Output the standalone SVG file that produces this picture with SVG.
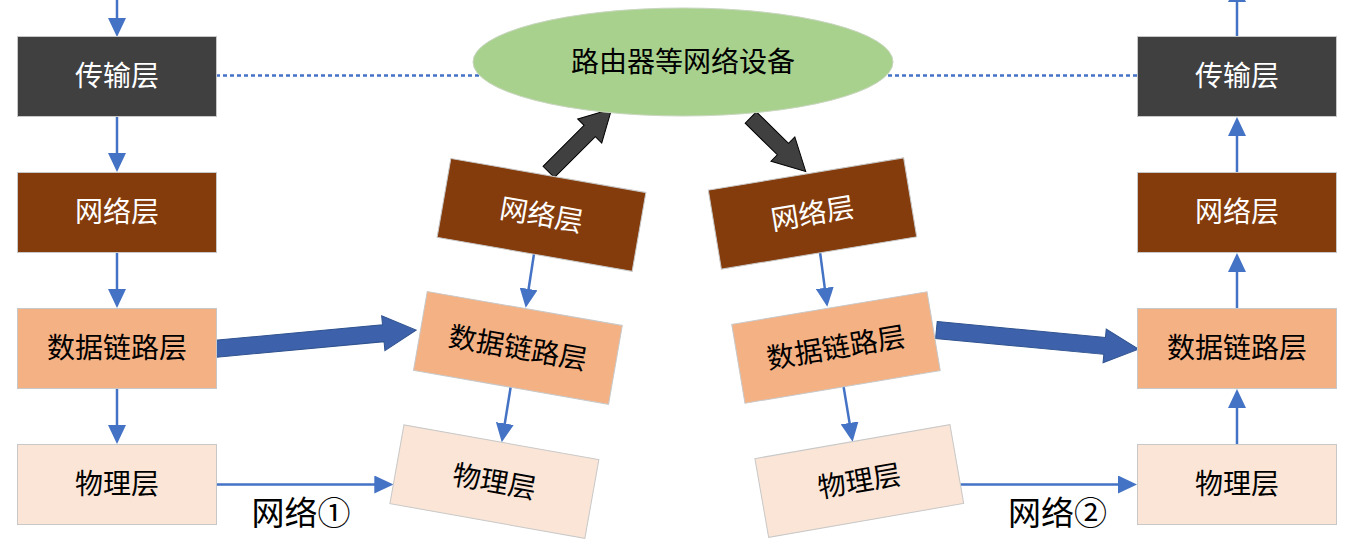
<svg xmlns="http://www.w3.org/2000/svg" width="1355" height="557" viewBox="0 0 1355 557">
<defs>
<style>
.box{stroke:#c8c8c8;stroke-width:1}
.t{fill:#404040}
.n{fill:#843C0C}
.d{fill:#F4B183}
.p{fill:#FBE5D6}
.lbl{font-family:"Microsoft YaHei","Noto Sans CJK SC",sans-serif;font-size:28px;text-anchor:middle}
.w{fill:#ffffff}
.k{fill:#000000}
.ln{stroke:#4472C4;stroke-width:2.5;fill:none;marker-end:url(#ah)}
.big{fill:#3D62AB;stroke:#2F528F;stroke-width:1}
.blk{fill:#404040;stroke:#000000;stroke-width:1}
.net{font-family:"Microsoft YaHei","Noto Sans CJK SC",sans-serif;font-size:33px;fill:#000;text-anchor:middle}
</style>
<marker id="ah" markerUnits="userSpaceOnUse" markerWidth="19" markerHeight="18" refX="10" refY="9" orient="auto" viewBox="0 0 19 18">
<path d="M0,0 L19,9 L0,18 z" fill="#4472C4"/>
</marker>
</defs>
<rect width="1355" height="557" fill="#ffffff"/>
<g id="connectors">
<line x1="216" y1="75.5" x2="1138" y2="75.5" stroke="#4472C4" stroke-width="2.5" stroke-dasharray="4 3"/>
<line class="ln" x1="117" y1="-5" x2="117" y2="28"/>
<line class="ln" x1="117" y1="116.5" x2="117" y2="163"/>
<line class="ln" x1="117" y1="252.5" x2="117" y2="299"/>
<line class="ln" x1="117" y1="388.5" x2="117" y2="435"/>
<line class="ln" x1="1237" y1="36.5" x2="1237" y2="-8"/>
<line class="ln" x1="1237" y1="172.5" x2="1237" y2="126"/>
<line class="ln" x1="1237" y1="308.5" x2="1237" y2="262"/>
<line class="ln" x1="1237" y1="444.5" x2="1237" y2="398"/>
<line class="ln" x1="534.3" y1="252" x2="527.1" y2="298.8"/>
<line class="ln" x1="511" y1="385" x2="503.2" y2="433.4"/>
<line class="ln" x1="820" y1="252" x2="826.1" y2="297.8"/>
<line class="ln" x1="843.3" y1="385" x2="851.2" y2="432.8"/>
<line class="ln" x1="216" y1="484.5" x2="384.3" y2="484.5"/>
<line class="ln" x1="960" y1="484.5" x2="1128" y2="484.5"/>
<polygon class="big" transform="translate(216,348.7) rotate(-5.3)" points="0,-8.5 168,-8.5 168,-17.5 201,0 168,17.5 168,8.5 0,8.5"/>
<polygon class="big" transform="translate(936.4,330) rotate(5.4)" points="0,-8.5 169,-8.5 169,-17 203,0 169,17 169,8.5 0,8.5"/>
<polygon class="blk" transform="translate(548.7,172) rotate(-45)" points="0,-8 58,-8 58,-17 89,0 58,17 58,8 0,8"/>
<polygon class="blk" transform="translate(750.8,117.5) rotate(44.5)" points="0,-8 45,-8 45,-17 77,0 45,17 45,8 0,8"/>
</g>
<g id="router">
<ellipse cx="683" cy="62" rx="210" ry="54" fill="#A9D18E" stroke="#c9d6c0" stroke-width="1"/>
<text class="lbl k" x="683" y="72">路由器等网络设备</text>
</g>
<g id="left-transport"><rect class="box t" x="17.5" y="36.5" width="199" height="80"/><text class="lbl w" x="117" y="86">传输层</text></g>
<g id="left-network"><rect class="box n" x="17.5" y="172.5" width="199" height="80"/><text class="lbl w" x="117" y="222">网络层</text></g>
<g id="left-datalink"><rect class="box d" x="17.5" y="308.5" width="199" height="80"/><text class="lbl k" x="117" y="358">数据链路层</text></g>
<g id="left-physical"><rect class="box p" x="17.5" y="444.5" width="199" height="80"/><text class="lbl k" x="117" y="494">物理层</text></g>
<g id="right-transport"><rect class="box t" x="1137.5" y="36.5" width="199" height="80"/><text class="lbl w" x="1237" y="86">传输层</text></g>
<g id="right-network"><rect class="box n" x="1137.5" y="172.5" width="199" height="80"/><text class="lbl w" x="1237" y="222">网络层</text></g>
<g id="right-datalink"><rect class="box d" x="1137.5" y="308.5" width="199" height="80"/><text class="lbl k" x="1237" y="358">数据链路层</text></g>
<g id="right-physical"><rect class="box p" x="1137.5" y="444.5" width="199" height="80"/><text class="lbl k" x="1237" y="494">物理层</text></g>
<g id="router1-network" transform="translate(541.5,214.9) rotate(9.9)"><rect class="box n" x="-99" y="-40" width="198" height="80"/><text class="lbl w" x="0" y="10">网络层</text></g>
<g id="router1-datalink" transform="translate(517.9,347.9) rotate(9.9)"><rect class="box d" x="-99" y="-40" width="198" height="80"/><text class="lbl k" x="0" y="10">数据链路层</text></g>
<g id="router1-physical" transform="translate(494.4,481.6) rotate(10.1)"><rect class="box p" x="-99" y="-40" width="198" height="80"/><text class="lbl k" x="0" y="10">物理层</text></g>
<g id="router2-network" transform="translate(812.5,213.5) rotate(-9.4)"><rect class="box n" x="-99" y="-40" width="198" height="80"/><text class="lbl w" x="0" y="10">网络层</text></g>
<g id="router2-datalink" transform="translate(836,347.5) rotate(-9.5)"><rect class="box d" x="-99" y="-40" width="198" height="80"/><text class="lbl k" x="0" y="10">数据链路层</text></g>
<g id="router2-physical" transform="translate(859.3,481) rotate(-9.9)"><rect class="box p" x="-99" y="-40" width="198" height="80"/><text class="lbl k" x="0" y="10">物理层</text></g>
<g id="labels">
<text class="net" x="301" y="525">网络①</text>
<text class="net" x="1057.5" y="525">网络②</text>
</g>
</svg>
